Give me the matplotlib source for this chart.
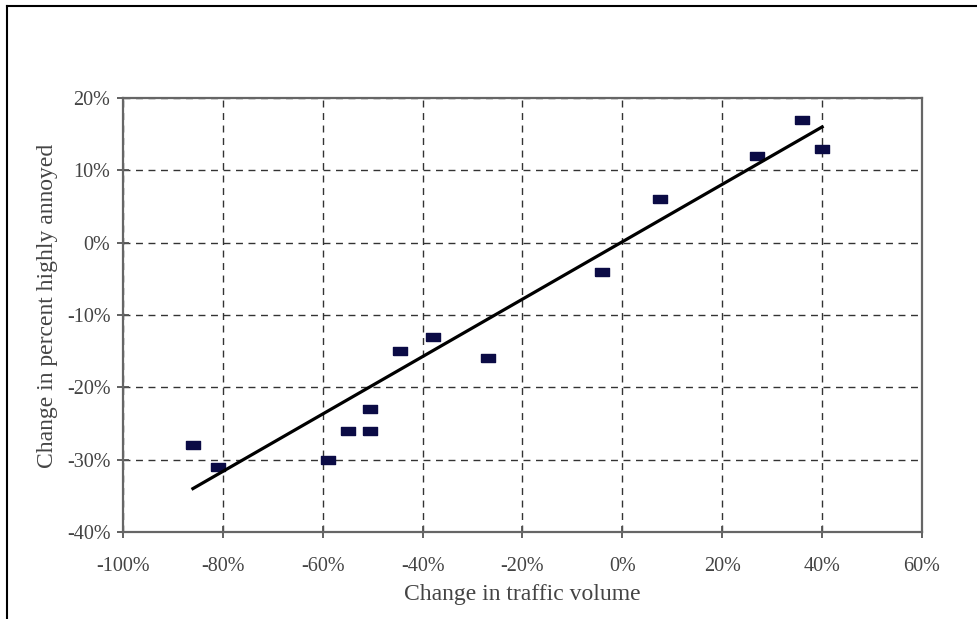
import matplotlib
matplotlib.use("Agg")
import matplotlib.pyplot as plt
from matplotlib.lines import Line2D
from matplotlib.ticker import FuncFormatter

# Изменение интенсивности движения и доля сильно раздражённых жителей, %
traffic_change = [-86, -81, -59, -55, -50.5, -50.5, -44.5, -38, -27, -4, 7.5, 27, 36, 40]
annoyed_change = [-28, -31, -30, -26, -26, -23, -15, -13, -16, -4, 6, 12, 17, 13]

# линия тренда (концы)
trend_x = [-86, 40]
trend_y = [-34, 16]

x_ticks = [-100, -80, -60, -40, -20, 0, 20, 40, 60]
y_ticks = [-40, -30, -20, -10, 0, 10, 20]

plt.rcParams['font.family'] = ['Liberation Serif', 'DejaVu Serif']

fig = plt.figure(figsize=(9.78, 6.19), dpi=100)
ax = fig.add_axes([123 / 978, 1 - 532 / 619, 799 / 978, 434 / 619])

# рамка вокруг рисунка (видны только левая и верхняя стороны)
fig.add_artist(Line2D([7 / 978, 7 / 978], [0, 1 - 6 / 619], transform=fig.transFigure,
                      color='black', lw=1.5))
fig.add_artist(Line2D([7 / 978, 1], [1 - 6 / 619, 1 - 6 / 619], transform=fig.transFigure,
                      color='black', lw=1.5))

rect = [(-1, -0.6), (1, -0.6), (1, 0.6), (-1, 0.6), (-1, -0.6)]
ax.plot(traffic_change, annoyed_change, linestyle='none', marker=rect, markersize=10.5,
        color='#0b0b45', markeredgecolor='#0b0b45', zorder=3)
ax.plot(trend_x, trend_y, color='black', lw=2.3, zorder=4)

ax.set_xlim(-100, 60)
ax.set_ylim(-40, 20)
ax.set_xticks(x_ticks)
ax.set_yticks(y_ticks)
pct = FuncFormatter(lambda v, pos: '%d%%' % v)
ax.xaxis.set_major_formatter(pct)
ax.yaxis.set_major_formatter(pct)

ax.grid(True, color='#333333', linestyle=(0, (5, 4)), lw=1.0)
ax.set_axisbelow(True)
for s in ax.spines.values():
    s.set_color('#666666')
    s.set_linewidth(1.6)

ax.tick_params(axis='both', direction='inout', length=8, width=1.3, color='#555555',
               labelsize=14.5, labelcolor='#444444')
ax.tick_params(axis='x', pad=14)
ax.tick_params(axis='y', pad=5)

ax.set_xlabel('Change in traffic volume', fontsize=17, color='#444444', labelpad=6)
ax.set_ylabel('Change in percent highly annoyed', fontsize=17, color='#444444')
ax.yaxis.set_label_coords(-0.081, 0.52)

fig.savefig('out.png', dpi=100)
